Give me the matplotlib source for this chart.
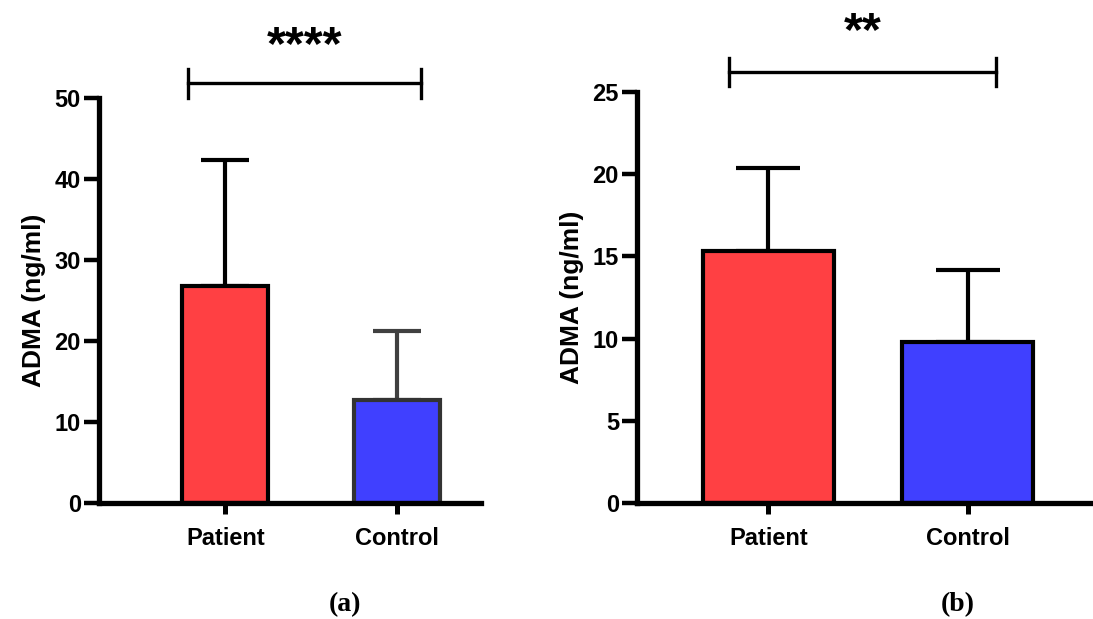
import matplotlib
matplotlib.use("Agg")
import matplotlib.pyplot as plt

plt.rcParams.update({
    "font.family": ["Liberation Sans", "DejaVu Sans"],
    "font.weight": "bold",
})

groups = ["Patient", "Control"]
bar_colors = ["#FF4043", "#4040FF"]

# panel (a)
mean_a = [26.8, 12.7]
sd_a = [15.6, 8.5]
yticks_a = [0, 10, 20, 30, 40, 50]
stars_a = "****"

# panel (b)
mean_b = [15.3, 9.8]
sd_b = [5.1, 4.4]
yticks_b = [0, 5, 10, 15, 20, 25]
stars_b = "**"


def draw_panel(ax, means, sds, yticks, stars, width, xlim, edge_colors, err_colors,
               capsize, bracket_y, bracket_h, stars_y, bracket_x):
    x = list(range(len(groups)))
    ax.bar(x, means, width=width, color=bar_colors, edgecolor=edge_colors,
           linewidth=3.0, zorder=2)
    for xi, m, s, ec in zip(x, means, sds, err_colors):
        ax.errorbar(xi, m, yerr=[[0], [s]], fmt="none", ecolor=ec,
                    elinewidth=3.0, capsize=capsize, capthick=3.0, zorder=1)
    ax.set_xlim(*xlim)
    ax.set_ylim(yticks[0], yticks[-1])
    ax.set_yticks(yticks)
    ax.set_xticks(x)
    ax.set_xticklabels(groups)
    ax.spines["top"].set_visible(False)
    ax.spines["right"].set_visible(False)
    for side in ["left", "bottom"]:
        ax.spines[side].set_linewidth(3.8)
    ax.tick_params(axis="y", length=11, width=3.2, labelsize=17, pad=2)
    ax.tick_params(axis="x", length=8, width=3.6, labelsize=17, pad=9)
    for lab in ax.get_xticklabels() + ax.get_yticklabels():
        lab.set_fontweight("bold")
    ax.set_ylabel("ADMA (ng/ml)", fontsize=19, fontweight="bold", labelpad=6)

    x0, x1 = bracket_x
    ax.plot([x0, x1], [bracket_y, bracket_y], color="black", lw=2.4, clip_on=False)
    for xb in (x0, x1):
        ax.plot([xb, xb], [bracket_y - bracket_h, bracket_y + bracket_h],
                color="black", lw=2.4, clip_on=False)
    ax.text((x0 + x1) / 2, stars_y, stars, ha="center", va="center",
            fontsize=35, fontweight="bold", clip_on=False)


fig = plt.figure(figsize=(10.93, 6.19), dpi=100)
ax_a = fig.add_axes([0.0906, 0.1874, 0.3494, 0.6543])
ax_b = fig.add_axes([0.5828, 0.1874, 0.4172, 0.6640])

draw_panel(ax_a, mean_a, sd_a, yticks_a, stars_a, 0.50, (-0.736, 1.49),
           ["black", "#333333"], ["black", "#404040"], 17,
           bracket_y=51.8, bracket_h=1.8, stars_y=56.3, bracket_x=(-0.215, 1.139))
draw_panel(ax_b, mean_b, sd_b, yticks_b, stars_b, 0.66, (-0.66, 1.63),
           ["black", "black"], ["black", "black"], 23,
           bracket_y=26.2, bracket_h=0.85, stars_y=28.6, bracket_x=(-0.197, 1.145))

fig.text(345 / 1093, 1 - 605 / 619, "(a)", ha="center", va="center",
         fontsize=20, fontweight="bold", family="Liberation Serif")
fig.text(958 / 1093, 1 - 605 / 619, "(b)", ha="center", va="center",
         fontsize=20, fontweight="bold", family="Liberation Serif")

fig.savefig("out.png", dpi=100)
